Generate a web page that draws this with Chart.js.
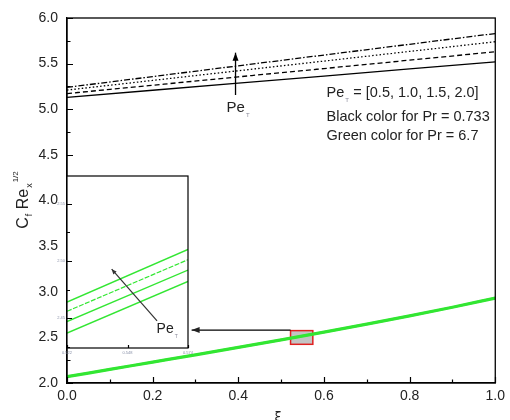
<!DOCTYPE html>
<html><head><meta charset="utf-8">
<script src="https://cdn.jsdelivr.net/npm/chart.js@4.4.0/dist/chart.umd.min.js"></script>
<style>
html,body{margin:0;padding:0;background:#fff;}
#wrap{position:relative;width:510px;height:420px;overflow:hidden;}
#main{position:absolute;left:0;top:0;}
#inset{position:absolute;left:40px;top:168px;}
</style></head><body>
<div id="wrap"><canvas id="main" width="510" height="420"></canvas><canvas id="inset" width="160" height="192"></canvas></div>
<script>
// ---- data ----
const xiBlack = [0,0.2,0.4,0.6,0.8,1.0];
const peValues = ['0.5','1.0','1.5','2.0'];
// Pr = 0.733 (black)
const blackPe05 = [5.130,5.208,5.286,5.364,5.442,5.520];
const blackPe10 = [5.172,5.263,5.355,5.446,5.538,5.630];
const blackPe15 = [5.210,5.316,5.422,5.528,5.634,5.740];
const blackPe20 = [5.240,5.358,5.476,5.594,5.712,5.830];
// Pr = 6.7 (green)
const xi = [0,0.1,0.2,0.3,0.4,0.5,0.6,0.7,0.8,0.9,1.0];
const greenPe05 = [2.060,2.140,2.220,2.300,2.381,2.464,2.549,2.636,2.726,2.821,2.922];
const greenPe10 = [2.066,2.146,2.226,2.306,2.387,2.470,2.555,2.642,2.732,2.827,2.928];
const greenPe15 = [2.072,2.152,2.232,2.312,2.393,2.476,2.561,2.648,2.738,2.833,2.934];
const greenPe20 = [2.078,2.158,2.238,2.318,2.399,2.482,2.567,2.654,2.744,2.839,2.940];
// inset (zoom of the red box)
const insetXi = [0.522,0.574];
const insetGreenPe05 = [2.437,2.482];
const insetGreenPe10 = [2.447,2.492];
const insetGreenPe15 = [2.456,2.501];
const insetGreenPe20 = [2.464,2.510];
const xTickLabels = ['0.0','0.2','0.4','0.6','0.8','1.0'];
const yTickLabels = ['2.0','2.5','3.0','3.5','4.0','4.5','5.0','5.5','6.0'];
const insetXTicks = [0.522,0.548,0.574];
const insetYTicks = [2.45,2.50,2.55];

const pts = (xs, ys) => xs.map((x,i)=>({x:x,y:ys[i]}));
const GREEN = '#33e633';
const TXT = '#222';

function arrow(ctx,x1,y1,x2,y2,hl,hw){
  ctx.beginPath();ctx.moveTo(x1,y1);ctx.lineTo(x2,y2);ctx.stroke();
  const a=Math.atan2(y2-y1,x2-x1);
  ctx.beginPath();
  ctx.moveTo(x2,y2);
  ctx.lineTo(x2-hl*Math.cos(a)+hw*Math.sin(a), y2-hl*Math.sin(a)-hw*Math.cos(a));
  ctx.lineTo(x2-hl*Math.cos(a)-hw*Math.sin(a), y2-hl*Math.sin(a)+hw*Math.cos(a));
  ctx.closePath();ctx.fill();
}
function peLabel(ctx,x,y,size,subSize,rest){
  ctx.font=size+'px "Liberation Sans", Arial, sans-serif';
  ctx.fillStyle=TXT;ctx.textBaseline='alphabetic';ctx.textAlign='left';
  ctx.fillText('Pe',x,y);
  let w=ctx.measureText('Pe').width;
  ctx.font=subSize+'px "Liberation Sans", Arial, sans-serif';
  ctx.fillStyle='#8a8a9a';
  ctx.fillText('T',x+w+1,y+subSize*0.9);
  if(rest){
    ctx.font=size+'px "Liberation Sans", Arial, sans-serif';ctx.fillStyle=TXT;
    ctx.fillText(rest,x+w+9,y);
  }
}

const mainPlugin = {
  id:'mainDeco',
  beforeDatasetsDraw(chart){
    const {ctx,scales:{x,y}}=chart;
    const x0=x.getPixelForValue(insetXi[0]), x1=x.getPixelForValue(insetXi[1]);
    const y0=y.getPixelForValue(2.574), y1=y.getPixelForValue(2.424);
    ctx.save();
    ctx.fillStyle='#c4c4c4';ctx.fillRect(x0,y0,x1-x0,y1-y0);
    ctx.strokeStyle='#e02020';ctx.lineWidth=1.5;ctx.strokeRect(x0,y0,x1-x0,y1-y0);
    ctx.restore();
  },
  afterDraw(chart){
    const {ctx,chartArea:a,scales:{x,y}}=chart;
    ctx.save();
    ctx.strokeStyle='#000';ctx.lineWidth=1.3;
    ctx.strokeRect(a.left,a.top,a.right-a.left,a.bottom-a.top);
    ctx.lineWidth=1.2;ctx.beginPath();
    for(let v=2;v<=6.001;v+=0.25){
      const py=Math.round(y.getPixelForValue(v))+0.5;
      const L=(Math.abs(v*2-Math.round(v*2))<1e-6)?6:3.5;
      ctx.moveTo(a.left,py);ctx.lineTo(a.left+L,py);
    }
    for(let v=0;v<=1.001;v+=0.1){
      const px=Math.round(x.getPixelForValue(v))+0.5;
      const L=(Math.round(v*10)%2===0)?6:3.5;
      ctx.moveTo(px,a.bottom);ctx.lineTo(px,a.bottom-L);
    }
    ctx.stroke();
    ctx.fillStyle='#000';ctx.lineWidth=1.3;
    const ax=x.getPixelForValue(0.3935);
    arrow(ctx,ax,y.getPixelForValue(5.156),ax,y.getPixelForValue(5.62),8,3);
    peLabel(ctx,x.getPixelForValue(0.3727),y.getPixelForValue(4.97),15,6);
    const lx=x.getPixelForValue(0.606);
    peLabel(ctx,lx,97,14.5,6,'= [0.5, 1.0, 1.5, 2.0]');
    ctx.font='14.5px "Liberation Sans", Arial, sans-serif';ctx.fillStyle=TXT;
    ctx.fillText('Black color for Pr = 0.733',lx,121);
    ctx.fillText('Green color for Pr = 6.7',lx,140);
    ctx.lineWidth=1.2;
    arrow(ctx,x.getPixelForValue(insetXi[0]),y.getPixelForValue(2.58),x.getPixelForValue(0.291),y.getPixelForValue(2.58),8,3);
    // y title
    ctx.translate(28,200);ctx.rotate(-Math.PI/2);
    const F=s=>s+'px "Liberation Sans", Arial, sans-serif';
    const parts=[['C',16,0],['f',9,4],[' Re',16,0],['x',9,4],['1/2',8,-10]];
    let tw=0;parts.forEach(p=>{ctx.font=F(p[1]);tw+=ctx.measureText(p[0]).width+(p[1]<12?1:0);});
    let cx=-tw/2;ctx.fillStyle=TXT;ctx.textAlign='left';ctx.textBaseline='alphabetic';
    parts.forEach((p)=>{
      ctx.font=F(p[1]);
      ctx.fillText(p[0],cx+(p[1]<12?1:0),p[2]);
      cx+=ctx.measureText(p[0]).width+(p[1]<12?1:0);
    });
    ctx.restore();
    ctx.save();ctx.font='13px "DejaVu Sans", sans-serif';ctx.fillStyle=TXT;ctx.textAlign='center';ctx.textBaseline='top';
    ctx.fillText('ξ',x.getPixelForValue(0.493),411);ctx.restore();
  }
};

new Chart(document.getElementById('main'),{
  type:'line',
  data:{datasets:[
    {label:'Pr=6.7, Pe=0.5',data:pts(xi,greenPe05),borderColor:GREEN,borderWidth:1.6},
    {label:'Pr=6.7, Pe=1.0',data:pts(xi,greenPe10),borderColor:GREEN,borderWidth:1.6},
    {label:'Pr=6.7, Pe=1.5',data:pts(xi,greenPe15),borderColor:GREEN,borderWidth:1.6},
    {label:'Pr=6.7, Pe=2.0',data:pts(xi,greenPe20),borderColor:GREEN,borderWidth:1.6},
    {label:'Pr=0.733, Pe=0.5',data:pts(xiBlack,blackPe05),borderColor:'#000',borderWidth:1.3},
    {label:'Pr=0.733, Pe=1.0',data:pts(xiBlack,blackPe10),borderColor:'#000',borderWidth:1.3,borderDash:[5,3]},
    {label:'Pr=0.733, Pe=1.5',data:pts(xiBlack,blackPe15),borderColor:'#000',borderWidth:1.3,borderDash:[1.5,2.2]},
    {label:'Pr=0.733, Pe=2.0',data:pts(xiBlack,blackPe20),borderColor:'#000',borderWidth:1.3,borderDash:[6,2,1.5,2]}
  ].map(d=>Object.assign({pointRadius:0,fill:false,tension:0.3,cubicInterpolationMode:'monotone'},d))},
  options:{
    responsive:false,animation:false,devicePixelRatio:1,
    layout:{padding:{left:0,top:18,right:11,bottom:0}},
    plugins:{legend:{display:false},tooltip:{enabled:false}},
    scales:{
      x:{type:'linear',min:0,max:1,
        afterFit(s){s.height=37;},
        afterBuildTicks(s){s.ticks=xTickLabels.map(t=>({value:parseFloat(t)}));},
        ticks:{padding:5,color:TXT,font:{family:'"Liberation Sans", Arial, sans-serif',size:14},callback:(v)=>v.toFixed(1)},
        grid:{drawOnChartArea:false,drawTicks:false},border:{display:true,color:'#000',width:1.3}},
      y:{type:'linear',min:2,max:6,
        afterFit(s){s.width=67;},
        afterBuildTicks(s){s.ticks=yTickLabels.map(t=>({value:parseFloat(t)}));},
        ticks:{padding:9,color:TXT,font:{family:'"Liberation Sans", Arial, sans-serif',size:14},callback:(v)=>v.toFixed(1)},
        grid:{drawOnChartArea:false,drawTicks:false},border:{display:true,color:'#000',width:1.3}}
    }
  },
  plugins:[mainPlugin]
});

const insetPlugin = {
  id:'insetDeco',
  beforeDraw(chart){
    const {ctx,chartArea:a}=chart;
    ctx.save();ctx.fillStyle='#fff';ctx.fillRect(a.left,a.top,a.right-a.left,a.bottom-a.top);ctx.restore();
  },
  afterDraw(chart){
    const {ctx,chartArea:a,scales:{x,y}}=chart;
    ctx.save();
    ctx.strokeStyle='#000';ctx.lineWidth=1.2;
    ctx.strokeRect(a.left,a.top,a.right-a.left,a.bottom-a.top);
    ctx.beginPath();
    for(let v=2.425;v<=2.5741;v+=0.025){
      const py=Math.round(y.getPixelForValue(v))+0.5;
      const major=insetYTicks.some(t=>Math.abs(t-v)<1e-6);
      ctx.moveTo(a.left,py);ctx.lineTo(a.left+(major?5:3),py);
    }
    insetXTicks.forEach(v=>{const px=Math.round(x.getPixelForValue(v))+0.5;ctx.moveTo(px,a.bottom);ctx.lineTo(px,a.bottom-3);});
    ctx.stroke();
    ctx.strokeStyle='#333';ctx.fillStyle='#333';ctx.lineWidth=1.2;
    arrow(ctx,x.getPixelForValue(0.5607),y.getPixelForValue(2.4477),x.getPixelForValue(0.5412),y.getPixelForValue(2.4927),5,2.2);
    peLabel(ctx,x.getPixelForValue(0.5605),y.getPixelForValue(2.437),14,5);
    ctx.restore();
  }
};

new Chart(document.getElementById('inset'),{
  type:'line',
  data:{datasets:[
    {label:'Pe=0.5',data:pts(insetXi,insetGreenPe05),borderColor:GREEN,borderWidth:1.6},
    {label:'Pe=1.0',data:pts(insetXi,insetGreenPe10),borderColor:GREEN,borderWidth:1.4},
    {label:'Pe=1.5',data:pts(insetXi,insetGreenPe15),borderColor:GREEN,borderWidth:1.2,borderDash:[5,1.5]},
    {label:'Pe=2.0',data:pts(insetXi,insetGreenPe20),borderColor:GREEN,borderWidth:1.6}
  ].map(d=>Object.assign({pointRadius:0,fill:false,tension:0},d))},
  options:{
    responsive:false,animation:false,devicePixelRatio:1,
    layout:{padding:{left:0,top:8,right:12,bottom:0}},
    plugins:{legend:{display:false},tooltip:{enabled:false}},
    scales:{
      x:{type:'linear',min:insetXi[0],max:insetXi[1],
        afterFit(s){s.height=12;},
        afterBuildTicks(s){s.ticks=insetXTicks.map(v=>({value:v}));},
        ticks:{padding:2,color:'#8890a8',font:{size:4},callback:(v)=>v.toFixed(3)},
        grid:{drawOnChartArea:false,drawTicks:false},border:{display:false}},
      y:{type:'linear',min:2.424,max:2.574,
        afterFit(s){s.width=27;},
        afterBuildTicks(s){s.ticks=insetYTicks.map(v=>({value:v}));},
        ticks:{padding:2,color:'#8890a8',font:{size:4},callback:(v)=>v.toFixed(2)},
        grid:{drawOnChartArea:false,drawTicks:false},border:{display:false}}
    }
  },
  plugins:[insetPlugin]
});
</script>
</body></html>
